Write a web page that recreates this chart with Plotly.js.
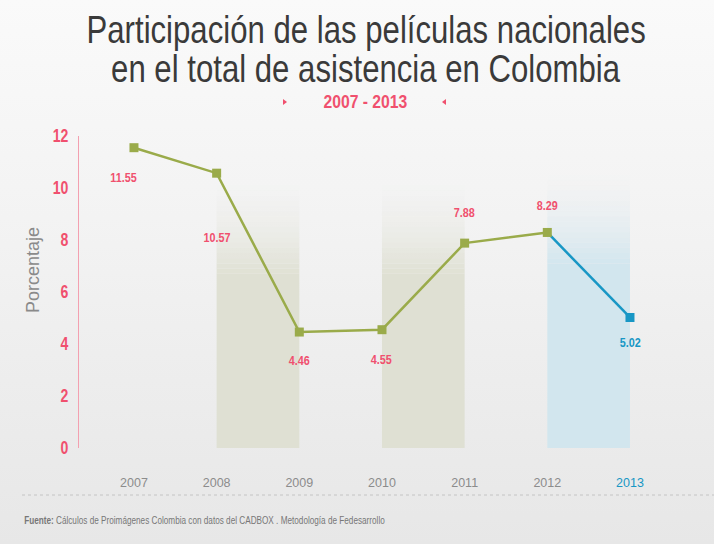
<!DOCTYPE html>
<html>
<head>
<meta charset="utf-8">
<script src="https://cdn.plot.ly/plotly-3.0.1.min.js"></script>
<style>
html,body{margin:0;padding:0;}
body{width:714px;height:544px;background:linear-gradient(to bottom,#fafafa 0%,#f3f3f3 40%,#e7e7e7 100%);overflow:hidden;}
#chart{width:714px;height:544px;}
</style>
</head>
<body>
<div id="chart"></div>
<script>
// ---- data ----
const years = [2007, 2008, 2009, 2010, 2011, 2012, 2013];
const values = [11.55, 10.57, 4.46, 4.55, 7.88, 8.29, 5.02];
const valueLabels = ["11.55", "10.57", "4.46", "4.55", "7.88", "8.29", "5.02"];
const yTicks = [0, 2, 4, 6, 8, 10, 12];
const titleLines = ["Participación de las películas nacionales", "en el total de asistencia en Colombia"];
const subtitle = "2007 - 2013";
const yTitle = "Porcentaje";
const sourceBold = "Fuente:";
const sourceText = " Cálculos de Proimágenes Colombia con datos del CADBOX . Metodología de Fedesarrollo";
const greenBandYears = [2008, 2010];
const blueBandYears = [2012];

// ---- style / layout ----
const W = 714, H = 544;
const L = 79, R = 14, T = 136, B = 96;
const PW = W - L - R, PH = H - T - B;
const px = x => (x - L) / PW;
const py = y => (H - B - y) / PH;

const green = '#9aab4a', blue = '#1897c5', pink = '#f0506e', gray = '#8c8c8c';
const FONT = 'Liberation Sans, Arial, sans-serif';
const labelShift = [{x:-10,y:-30},{x:0,y:-64},{x:0,y:-28},{x:0,y:-30},{x:0,y:31},{x:0,y:27},{x:0,y:-25}];

const nGreen = years.length - 1;
const traces = [
  {x: years.slice(nGreen-1), y: values.slice(nGreen-1), mode:'lines', line:{color:blue,width:2.5}, hoverinfo:'skip', showlegend:false},
  {x: years.slice(0,nGreen), y: values.slice(0,nGreen), mode:'lines+markers', line:{color:green,width:2.5},
   marker:{symbol:'square',size:9,color:green}, showlegend:false},
  {x: years.slice(nGreen), y: values.slice(nGreen), mode:'markers',
   marker:{symbol:'square',size:9,color:blue}, showlegend:false}
];

function bandShapes(x0, rgb, top){
  const out = [];
  const solidTop = top - 3.6, n = 18, step = (top - solidTop)/n;
  out.push({type:'rect',xref:'x',yref:'y',x0:x0,x1:x0+1,y0:0,y1:solidTop,fillcolor:`rgba(${rgb},1)`,line:{width:0},layer:'below'});
  for(let i=0;i<n;i++){
    const a = 1 - (i+0.5)/n;
    out.push({type:'rect',xref:'x',yref:'y',x0:x0,x1:x0+1,y0:solidTop+i*step,y1:solidTop+(i+1)*step,
      fillcolor:`rgba(${rgb},${(a*a*0.9+a*0.1).toFixed(3)})`,line:{width:0},layer:'below'});
  }
  return out;
}
let shapes = [];
greenBandYears.forEach(y=>shapes = shapes.concat(bandShapes(y,'223,224,211',10.3)));
blueBandYears.forEach(y=>shapes = shapes.concat(bandShapes(y,'210,230,238',10.7)));
shapes.push({type:'line',xref:'paper',yref:'paper',x0:px(22),x1:px(714),y0:py(495),y1:py(495),line:{color:'#c4c4c4',width:1,dash:'dot'}});
// small decorative triangles around the subtitle
function tri(cx, cy, dir){
  const p = [[cx-2*dir, cy-3],[cx+2*dir, cy],[cx-2*dir, cy+3]];
  return {type:'path', xref:'paper', yref:'paper', fillcolor:pink, line:{width:0},
    path:'M'+p.map(q=>px(q[0])+','+py(q[1])).join(' L')+' Z'};
}
shapes.push(tri(285,102,1));
shapes.push(tri(444,102,-1));

const annotations = [];
values.forEach((v,i)=>{
  annotations.push({x:years[i], y:v, xref:'x', yref:'y', text:'<b>'+valueLabels[i]+'</b>', showarrow:false,
    xshift:labelShift[i].x, yshift:labelShift[i].y,
    font:{family:FONT, size:13.5, color: i===years.length-1?blue:pink}});
});
titleLines.forEach((t,i)=>{
  annotations.push({xref:'paper',yref:'paper',x:px(366),y:py(i===0?30:69),text:t,showarrow:false,
    xanchor:'center',yanchor:'middle',font:{family:FONT,size:38,color:'#3a3a3a'}});
});
annotations.push({xref:'paper',yref:'paper',x:px(365),y:py(102),text:'<b>'+subtitle+'</b>',showarrow:false,
  xanchor:'center',yanchor:'middle',font:{family:FONT,size:18.5,color:pink}});
annotations.push({xref:'paper',yref:'paper',x:px(33),y:py(270),text:yTitle,showarrow:false,textangle:-90,
  xanchor:'center',yanchor:'middle',font:{family:FONT,size:18,color:'#8a8a8a'}});
annotations.push({xref:'paper',yref:'paper',x:px(22),y:py(520),text:'<b>'+sourceBold+'</b>'+sourceText,showarrow:false,
  xanchor:'left',yanchor:'middle',font:{family:FONT,size:10.5,color:'#777'}});

const tickText = years.map((y,i)=> i===years.length-1 ? `<span style="color:${blue}">${y}</span>` : String(y));

const layout = {
  width:W, height:H,
  margin:{l:L,r:R,t:T,b:B,pad:0},
  paper_bgcolor:'rgba(0,0,0,0)', plot_bgcolor:'rgba(0,0,0,0)',
  showlegend:false,
  xaxis:{range:[2006.335, 2013.847], tickvals:years, ticktext:tickText, showgrid:false, zeroline:false,
    showline:false, ticks:'', ticklabelstandoff:25,
    tickfont:{family:FONT, size:12.5, color:gray}, fixedrange:true},
  yaxis:{range:[0,12], tickvals:yTicks, ticktext:yTicks.map(v=>'<b>'+v+'</b>'), showgrid:false, zeroline:false, showline:true, linecolor:'#f3a0b0', linewidth:1,
    ticks:'', ticklabelstandoff:6,
    tickfont:{family:FONT, size:18, color:pink}, fixedrange:true},
  shapes:shapes,
  annotations:annotations
};

// horizontally condense text (the reference uses a condensed typeface)
function condense(el, f, origin){
  const bb = el.getBBox();
  const cx = origin==='left' ? bb.x : origin==='right' ? bb.x+bb.width : bb.x+bb.width/2;
  const t = el.getAttribute('transform') || '';
  el.setAttribute('transform', `${t} translate(${cx},0) scale(${f},1) translate(${-cx},0)`);
}
Plotly.newPlot('chart', traces, layout, {displayModeBar:false, staticPlot:true}).then(gd=>{
  const ann = i => gd.querySelector(`.annotation[data-index="${i}"] text`);
  for(let i=0;i<values.length;i++) condense(ann(i), 0.8, 'center');
  condense(ann(7), 0.82, 'center');
  condense(ann(8), 0.82, 'center');
  condense(ann(9), 0.85, 'center');
  condense(ann(11), 0.78, 'left');
  gd.querySelectorAll('.ytick text').forEach(el=>condense(el, 0.78, 'right'));
});
</script>
</body>
</html>
